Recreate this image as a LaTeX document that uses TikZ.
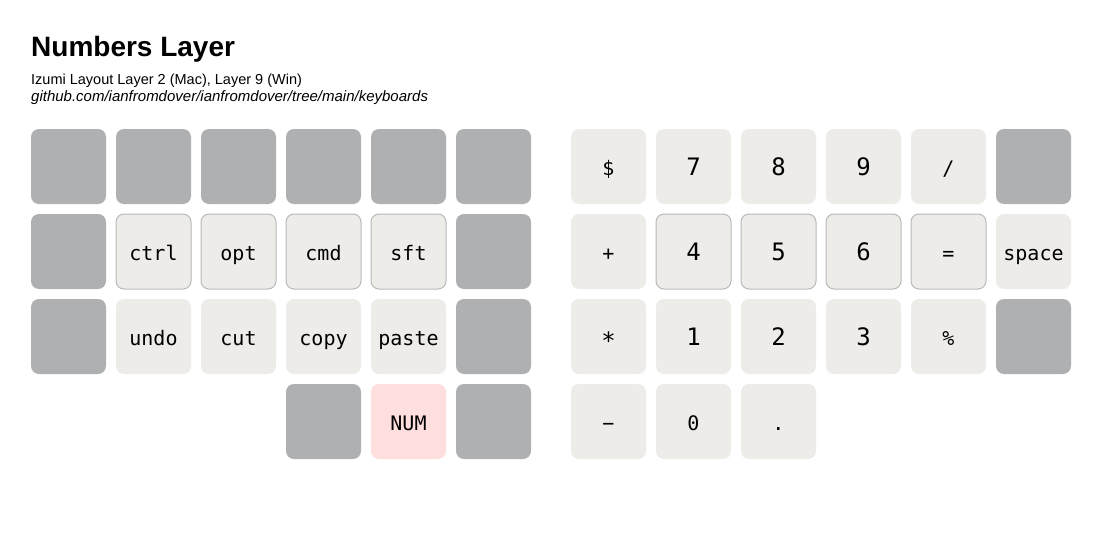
\documentclass[tikz,border=0pt]{standalone}
\usepackage{fontspec}
\setmainfont{Liberation Sans}
\newfontfamily\keyfont{DejaVu Sans Mono}
\definecolor{keygray}{HTML}{AFB0B1}
\definecolor{keylight}{HTML}{EDECE9}
\definecolor{keypink}{HTML}{FFDEDE}
\definecolor{keyrim}{HTML}{B9B9B9}
\tikzset{
	key/.style={rectangle, rounded corners=8pt, minimum size=75pt, inner sep=0pt, text height=17pt, text depth=0pt, draw=none, text=black, font=\keyfont\fontsize{20}{20}\selectfont},
	blank/.style={key, fill=keygray},
	lit/.style={key, fill=keylight},
	home/.style={key, fill=keylight, draw=keyrim, line width=1pt},
	layer/.style={key, fill=keypink},
	digit/.style={font=\keyfont\fontsize{24}{24}\selectfont},
}
\begin{document}
\begin{tikzpicture}[x=1pt, y=-1pt]
		\useasboundingbox[fill=white] (0,0) rectangle (1101,541);

		\node (title) at (31,56) [anchor=base west, inner sep=0pt] {\fontsize{28}{28}\selectfont\bfseries Numbers Layer};
		\node (sub) at (31,84) [anchor=base west, inner sep=0pt] {\fontsize{14.5}{14.5}\selectfont Izumi Layout Layer 2 (Mac), Layer 9 (Win)};
		\node (link) at (31,101.5) [anchor=base west, inner sep=0pt] {\fontsize{15}{15}\selectfont\itshape github.com/ianfromdover/ianfromdover/tree/main/keyboards};

		% left half
		\node (l11) at (68.5,166.5) [blank] {};
		\node (l12) at (153.5,166.5) [blank] {};
		\node (l13) at (238.5,166.5) [blank] {};
		\node (l14) at (323.5,166.5) [blank] {};
		\node (l15) at (408.5,166.5) [blank] {};
		\node (l16) at (493.5,166.5) [blank] {};

		\node (l21) at (68.5,251.5) [blank] {};
		\node (ctrl) at (153.5,251.5) [home] {ctrl};
		\node (opt) at (238.5,251.5) [home] {opt};
		\node (cmd) at (323.5,251.5) [home] {cmd};
		\node (sft) at (408.5,251.5) [home] {sft};
		\node (l26) at (493.5,251.5) [blank] {};

		\node (l31) at (68.5,336.5) [blank] {};
		\node (undo) at (153.5,336.5) [lit] {undo};
		\node (cut) at (238.5,336.5) [lit] {cut};
		\node (copy) at (323.5,336.5) [lit] {copy};
		\node (paste) at (408.5,336.5) [lit] {paste};
		\node (l36) at (493.5,336.5) [blank] {};

		\node (l44) at (323.5,421.5) [blank] {};
		\node (num) at (408.5,421.5) [layer] {NUM};
		\node (l46) at (493.5,421.5) [blank] {};

		% right half
		\node (dollar) at (608.5,166.5) [lit] {\$};
		\node (k7) at (693.5,166.5) [lit, digit] {7};
		\node (k8) at (778.5,166.5) [lit, digit] {8};
		\node (k9) at (863.5,166.5) [lit, digit] {9};
		\node (slash) at (948.5,166.5) [lit] {/};
		\node (r16) at (1033.5,166.5) [blank] {};

		\node (plus) at (608.5,251.5) [lit] {+};
		\node (k4) at (693.5,251.5) [home, digit] {4};
		\node (k5) at (778.5,251.5) [home, digit] {5};
		\node (k6) at (863.5,251.5) [home, digit] {6};
		\node (equal) at (948.5,251.5) [home] {=};
		\node (space) at (1033.5,251.5) [lit] {space};

		\node (star) at (608.5,336.5) [lit, digit] {\raisebox{-0.2em}{*}};
		\node (k1) at (693.5,336.5) [lit, digit] {1};
		\node (k2) at (778.5,336.5) [lit, digit] {2};
		\node (k3) at (863.5,336.5) [lit, digit] {3};
		\node (pct) at (948.5,336.5) [lit] {\%};
		\node (r36) at (1033.5,336.5) [blank] {};

		\node (minus) at (608.5,421.5) [lit] {−};
		\node (k0) at (693.5,421.5) [lit] {0};
		\node (dot) at (778.5,421.5) [lit] {.};
\end{tikzpicture}
\end{document}
